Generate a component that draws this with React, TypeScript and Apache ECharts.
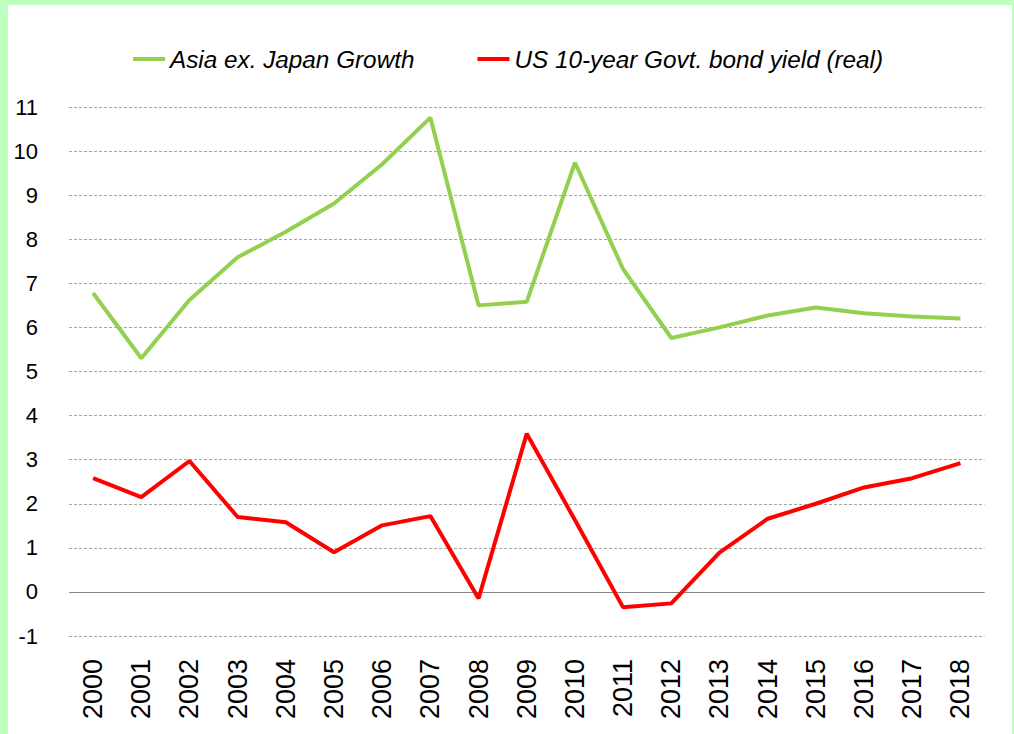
import React, { useEffect, useRef } from "react";
import * as echarts from "echarts";

const years = ["2000","2001","2002","2003","2004","2005","2006","2007","2008","2009","2010","2011","2012","2013","2014","2015","2016","2017","2018"];
const asiaGrowth = [6.78, 5.3, 6.62, 7.59, 8.17, 8.81, 9.7, 10.76, 6.5, 6.58, 9.74, 7.32, 5.76, 6.0, 6.27, 6.45, 6.32, 6.25, 6.2];
const usRealYield = [2.58, 2.15, 2.97, 1.7, 1.58, 0.9, 1.51, 1.72, -0.15, 3.59, 1.63, -0.35, -0.26, 0.89, 1.66, 2.0, 2.37, 2.58, 2.92];
const seriesNames = ["Asia ex. Japan Growth", "US 10-year Govt. bond yield (real)"];

const FONT = "'Liberation Sans Narrow', 'Liberation Sans', Arial, sans-serif";

export default function App() {
  const ref = useRef<HTMLDivElement>(null);
  useEffect(() => {
    if (!ref.current) return;
    const chart = echarts.init(ref.current, null, { renderer: "svg" });
    chart.setOption({
      animation: false,
      backgroundColor: "#ffffff",
      graphic: [
        { type: "rect", left: 0, top: 0, shape: { width: 8, height: 734 }, style: { fill: "#bdffbd" } },
        { type: "rect", left: 0, top: 0, shape: { width: 1014, height: 5 }, style: { fill: "#bdffbd" } },
        { type: "rect", left: 1012, top: 0, shape: { width: 2, height: 734 }, style: { fill: "#bdffbd" } },
      ],
      legend: {
        left: 128,
        top: 42,
        icon: "rect",
        itemWidth: 32,
        itemHeight: 4,
        itemGap: 63,
        textStyle: { fontFamily: FONT, fontSize: 24.3, fontStyle: "italic", color: "#000" },
        data: seriesNames,
      },
      grid: { left: 69, right: 29.5, top: 107, bottom: 98, containLabel: false },
      xAxis: {
        type: "category",
        data: years,
        boundaryGap: true,
        axisLine: { show: false },
        axisTick: { show: false },
        axisLabel: { rotate: 90, fontFamily: FONT, fontSize: 27, color: "#000", margin: 23 },
      },
      yAxis: {
        type: "value",
        min: -1,
        max: 11,
        interval: 1,
        axisLine: { show: false },
        axisTick: { show: false },
        axisLabel: { fontFamily: FONT, fontSize: 22, color: "#000", margin: 31 },
        splitLine: { lineStyle: { color: "#a6a6a6", type: [3, 2], width: 1 } },
      },
      series: [
        {
          name: seriesNames[0],
          type: "line",
          data: asiaGrowth,
          symbol: "none",
          lineStyle: { color: "#92d050", width: 4 },
          itemStyle: { color: "#92d050" },
          z: 3,
        },
        {
          name: seriesNames[1],
          type: "line",
          data: usRealYield,
          symbol: "none",
          lineStyle: { color: "#ff0000", width: 4 },
          itemStyle: { color: "#ff0000" },
          z: 3,
          markLine: {
            silent: true,
            symbol: "none",
            label: { show: false },
            lineStyle: { color: "#868686", type: "solid", width: 1 },
            data: [{ yAxis: 0 }],
            z: 1,
          },
        },
      ],
    });
    return () => chart.dispose();
  }, []);
  return <div ref={ref} style={{ position: "fixed", left: 0, top: 0, width: 1014, height: 734 }} />;
}
